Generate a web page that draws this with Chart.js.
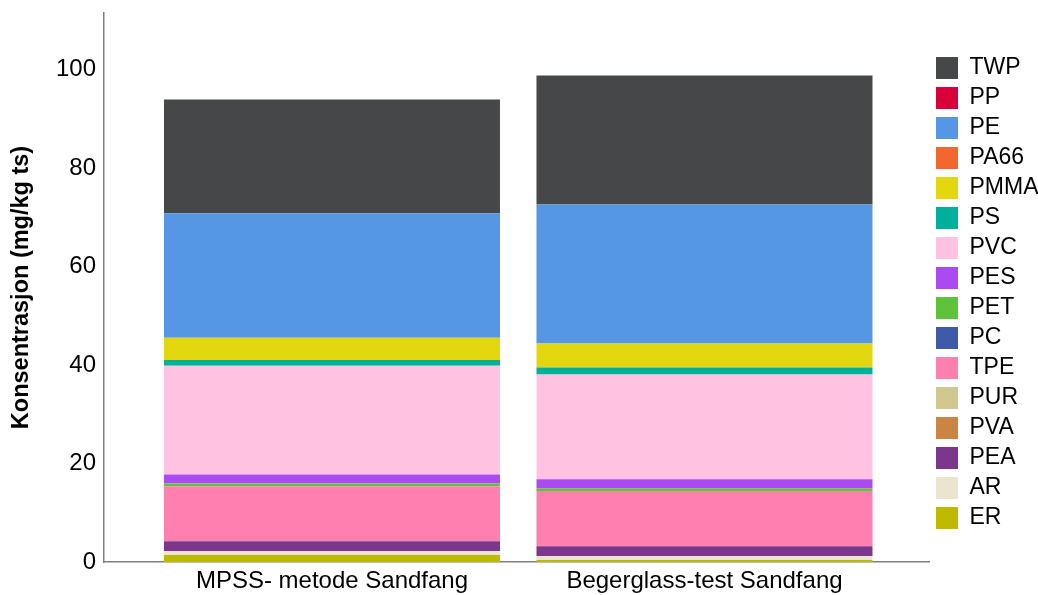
<!DOCTYPE html>
<html>
<head>
<meta charset="utf-8">
<script src="https://cdn.jsdelivr.net/npm/chart.js@4/dist/chart.umd.min.js"></script>
<style>
  html, body { margin: 0; padding: 0; background: #fff; }
  #wrap { width: 1038px; height: 595px; }
</style>
</head>
<body>
<div id="wrap"><canvas id="chart"></canvas></div>
<script>
const categories = ['MPSS- metode Sandfang', 'Begerglass-test Sandfang']

// stack order, bottom to top
const polymers = ['ER', 'AR', 'PEA', 'PVA', 'PUR', 'TPE', 'PC', 'PET', 'PES', 'PVC', 'PS', 'PMMA', 'PA66', 'PE', 'PP', 'TWP']

// mg/kg ts, one value per category
const ER = [1.4, 0.4]
const AR = [0.8, 0.8]
const PEA = [2.0, 2.0]
const PVA = [0, 0]
const PUR = [0, 0]
const TPE = [11.2, 11.2]
const PC = [0, 0]
const PET = [0.55, 0.6]
const PES = [1.8, 1.8]
const PVC = [22.1, 21.3]
const PS = [1.2, 1.4]
const PMMA = [4.5, 4.9]
const PA66 = [0, 0]
const PE = [25.3, 28.2]
const PP = [0, 0]
const TWP = [23.1, 26.2]

const values = { ER, AR, PEA, PVA, PUR, TPE, PC, PET, PES, PVC, PS, PMMA, PA66, PE, PP, TWP }

const colors = {
  TWP: '#464749', PP: '#d9003a', PE: '#5597e3', PA66: '#f2662f',
  PMMA: '#e2d70e', PS: '#00b09a', PVC: '#ffc2e0', PES: '#ab4af0',
  PET: '#5ec23a', PC: '#3f5ba8', TPE: '#ff80b0', PUR: '#d0c78e',
  PVA: '#cb8542', PEA: '#7a378c', AR: '#ebe4d0', ER: '#bdba00'
}

const font = 'Liberation Sans, Arial, sans-serif'
const axisBorder = { display: true, color: '#808080', width: 1.5 }

const datasets = polymers.map(name => ({
  label: name,
  data: values[name].map((v, i) => ({ x: i, y: v })),
  backgroundColor: colors[name],
  borderWidth: 0,
  barPercentage: 0.902,
  categoryPercentage: 1
}))

const context = document.getElementById('chart').getContext('2d')

const chart = new Chart(context, {
  type: 'bar',
  data: { datasets: datasets },
  options: {
    responsive: true,
    maintainAspectRatio: false,
    animation: false,
    layout: { padding: { top: 13, left: 0, right: -10.5, bottom: 0 } },
    plugins: {
      legend: {
        position: 'right',
        reverse: true,
        fullSize: false,
        // empty title only nudges the item column down a little
        title: { display: true, text: '', padding: 0, font: { size: 11, lineHeight: 1 } },
        labels: {
          boxWidth: 22,
          boxHeight: 22,
          padding: 7,
          color: '#000',
          font: { family: font, size: 23 }
        }
      },
      tooltip: { enabled: false }
    },
    scales: {
      x: {
        type: 'linear',
        stacked: true,
        offset: false,
        min: -0.612,
        max: 1.6027,
        grid: { display: false, drawTicks: false },
        border: axisBorder,
        afterBuildTicks: scale => {
          scale.ticks = categories.map((c, i) => ({ value: i }))
        },
        afterFit: scale => {
          scale.height = 33
        },
        ticks: {
          callback: v => categories[v],
          autoSkip: false,
          maxRotation: 0,
          padding: 5,
          color: '#000',
          font: { family: font, size: 24 }
        }
      },
      y: {
        stacked: true,
        min: 0,
        max: 111.5,
        grid: { display: false, drawTicks: false },
        border: axisBorder,
        afterFit: scale => {
          scale.width = 104
          scale.paddingTop = 0
          scale.paddingBottom = 0
        },
        ticks: {
          stepSize: 20,
          includeBounds: false,
          padding: 8,
          color: '#000',
          font: { family: font, size: 24 }
        },
        title: {
          display: true,
          text: 'Konsentrasjon (mg/kg ts)',
          color: '#000',
          font: { family: font, size: 23.5, weight: 'bold' },
          padding: { top: 7, bottom: 10 }
        }
      }
    }
  }
})
</script>
</body>
</html>
